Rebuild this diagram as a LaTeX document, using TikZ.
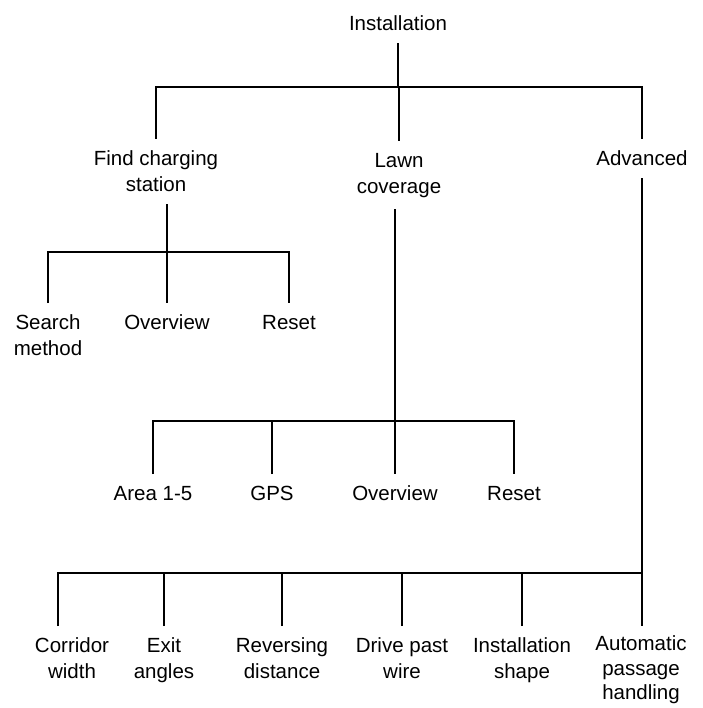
\documentclass[tikz,border=0pt]{standalone}
\usepackage{fontspec}
\setmainfont{Liberation Sans}
\begin{document}
\begin{tikzpicture}[x=1pt,y=-1pt,line width=2.6pt,
  lbl/.style={inner sep=0pt,outer ysep=12pt,align=center,anchor=north,
    font=\fontsize{20.5}{26}\selectfont}]
  \useasboundingbox (0,0) rectangle (702,708);
  \node[lbl] (inst) at (398,4) {Installation};
  \node[lbl] (find) at (156,139) {Find charging\\station};
  \node[lbl] (lawn) at (399,141) {Lawn\\coverage};
  \node[lbl] (adv) at (642,139) {Advanced};
  \node[lbl] (search) at (48,303) {Search\\method};
  \node[lbl] (ov1) at (167,303) {Overview};
  \node[lbl] (reset1) at (289,303) {Reset};
  \node[lbl] (area) at (153,474) {Area 1-5};
  \node[lbl] (gps) at (272,474) {GPS};
  \node[lbl] (ov2) at (395,474) {Overview};
  \node[lbl] (reset2) at (514,474) {Reset};
  \node[lbl] (corr) at (72,626) {Corridor\\width};
  \node[lbl] (exit) at (164,626) {Exit\\angles};
  \node[lbl] (rev) at (282,626) {Reversing\\distance};
  \node[lbl] (drive) at (402,626) {Drive past\\wire};
  \node[lbl] (ishape) at (522,626) {Installation\\shape};
  \node[lbl,font=\fontsize{20.5}{24.5}\selectfont] (auto) at (641,624)
    {Automatic\\passage\\handling};
  \coordinate (j0) at (398,87);
  \coordinate (j1) at (167,252);
  \coordinate (j2) at (395,421);
  \coordinate (j3) at (642,573);
  \coordinate (j3l) at (58,573);
  \draw (inst.south) -- (j0);
  \draw (find.north) |- (j0) -| (adv.north);
  \draw (lawn.north) -- (lawn.north |- j0);
  \draw (find.south -| j1) -- (ov1.north);
  \draw (search.north) |- (j1) -| (reset1.north);
  \draw (lawn.south -| j2) -- (ov2.north);
  \draw (area.north) |- (j2) -| (reset2.north);
  \draw (gps.north) -- (gps.north |- j2);
  \draw (adv.south) -- (j3) -- (j3 |- corr.north);
  \draw (j3l |- corr.north) -- (j3l) -- (j3);
  \foreach \n in {exit,rev,drive,ishape}
    \draw (\n.north) -- (\n.north |- j3);
\end{tikzpicture}
\end{document}
